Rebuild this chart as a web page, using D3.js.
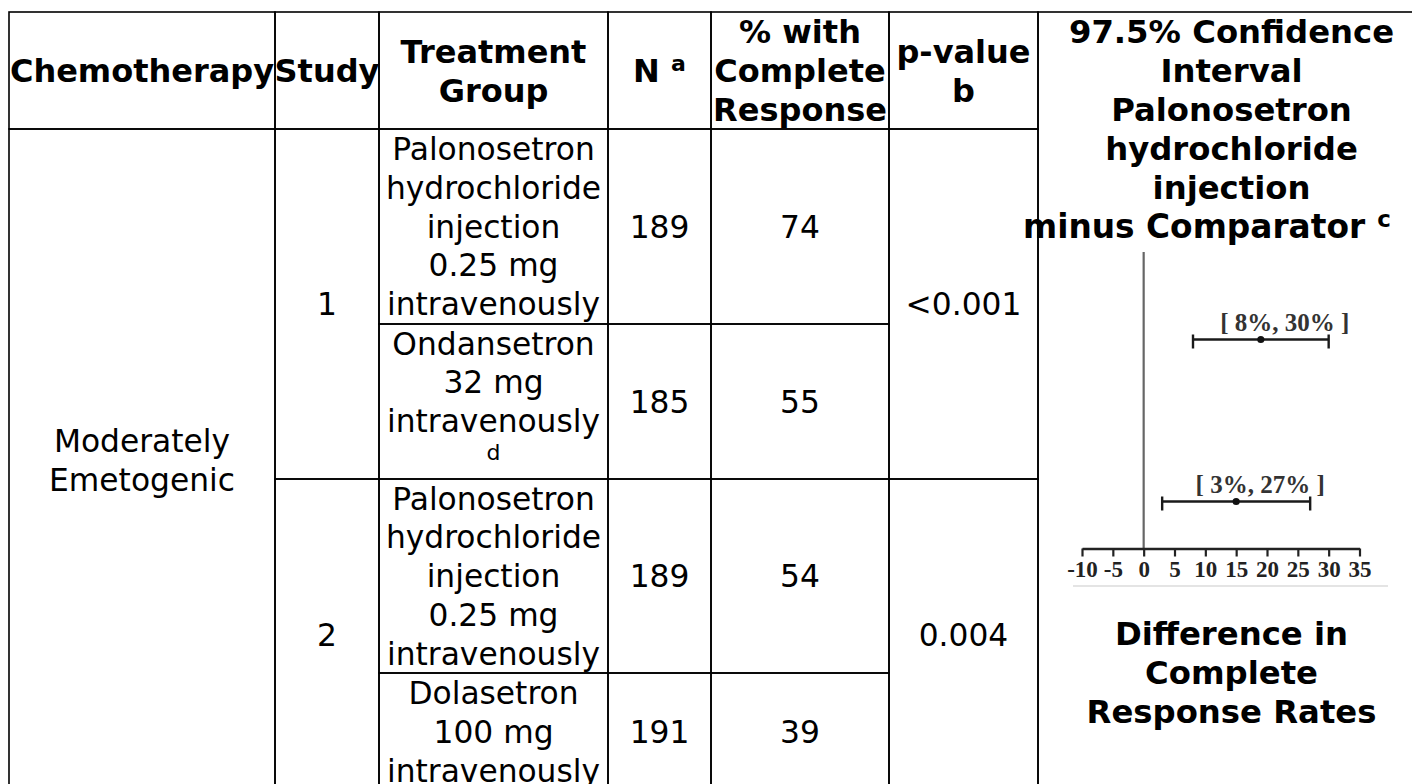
<!DOCTYPE html>
<html>
<head>
<meta charset="utf-8">
<script src="https://cdn.jsdelivr.net/npm/d3@7"></script>
<style>
    body { margin: 0; background: #fff; }
    svg { display: block; }
</style>
</head>
<body>
<div id="chart"></div>
<script>
// Header labels of the table, one entry per column, already broken in lines
var headerLines = [
    ['Chemotherapy'],
    ['Study'],
    ['Treatment', 'Group'],
    ['N'],
    ['% with', 'Complete', 'Response'],
    ['p-value', 'b']
];
// Header of the confidence interval column
var ciHeaderLines = ['97.5% Confidence', 'Interval', 'Palonosetron', 'hydrochloride', 'injection', 'minus Comparator'];
// Title under the interval plot
var ciFooterLines = ['Difference in', 'Complete', 'Response Rates'];

// Chemotherapy type (spans every row)
var chemotherapy = ['Moderately', 'Emetogenic'];
// Study numbers (each spans two treatment rows)
var studies = ['1', '2'];
// Treatment groups, one per row
var treatments = [
    ['Palonosetron', 'hydrochloride', 'injection', '0.25 mg', 'intravenously'],
    ['Ondansetron', '32 mg', 'intravenously'],
    ['Palonosetron', 'hydrochloride', 'injection', '0.25 mg', 'intravenously'],
    ['Dolasetron', '100 mg', 'intravenously']
];
// Footnote letters attached to the treatment groups
var treatmentNotes = ['', 'd', '', ''];
// Number of patients per row
var nValues = [189, 185, 189, 191];
// Percent with complete response per row
var responseRates = [74, 55, 54, 39];
// p-values per study
var pValues = ['<0.001', '0.004'];

// Confidence interval per study: lower, estimate, upper (percent)
var ciLower = [8, 3];
var ciEstimate = [19, 15];
var ciUpper = [30, 27];
// Ticks of the difference axis
var axisTicks = [-10, -5, 0, 5, 10, 15, 20, 25, 30, 35];

// Size of the picture
var width = 1412, height = 784;

// Column and row edges of the table
var colX = [9, 275, 379, 608, 711, 889, 1038, 1425];
var rowY = [12, 129, 324, 479, 673, 791];

// Fonts
var sansFont = '"DejaVu Sans", Verdana, sans-serif';
var serifFont = '"Liberation Serif", "Times New Roman", serif';

var svg = d3.select('#chart').append('svg')
    .attr('width', width)
    .attr('height', height);

// Group for the cell borders
var borders = svg.append('g').attr('class', 'borders');
// Group for the cell texts
var texts = svg.append('g').attr('class', 'texts');

/* Draws the border of a cell spanning columns c0..c1 and rows r0..r1
*/
function cellBox(c0, c1, r0, r1) {
    borders.append('rect')
        .attr('x', colX[c0])
        .attr('y', rowY[r0])
        .attr('width', colX[c1 + 1] - colX[c0])
        .attr('height', rowY[r1 + 1] - rowY[r0])
        .attr('fill', 'none')
        .attr('stroke', '#000')
        .attr('stroke-width', 1.6);
}

/* Writes lines of text vertically centered in a cell
*/
function cellText(c0, c1, r0, r1, lines, opts) {
    opts = opts || {};
    var bold = opts.bold || false,
        size = bold ? 32 : 31.3,
        lineH = bold ? 39 : 38.75,
        asc = bold ? 31 : 30.5,
        cx = (colX[c0] + colX[c1 + 1]) / 2,
        cy = (rowY[r0] + rowY[r1 + 1]) / 2,
        top = cy - lines.length * lineH / 2;

    lines.forEach(function(line, i) {
        var t = texts.append('text')
            .attr('x', cx)
            .attr('y', top + i * lineH + asc)
            .attr('text-anchor', 'middle')
            .style('font-family', sansFont)
            .style('font-size', size + 'px')
            .style('font-weight', bold ? 'bold' : 'normal')
            .attr('fill', '#000');
        // A line may carry a footnote letter written smaller and raised
        if (typeof line === 'object') {
            if (line.text) {
                t.append('tspan').text(line.text + '\u00a0');
            }
            t.append('tspan')
                .attr('dy', -11)
                .style('font-size', '22px')
                .text(line.note);
        } else {
            t.text(line);
        }
    });
}

// Header row
headerLines.forEach(function(lines, c) {
    cellBox(c, c, 0, 0);
    // The N column carries the footnote a
    if (c == 3) {
        cellText(c, c, 0, 0, [{ text: lines[0], note: 'a' }], { bold: true });
    } else {
        cellText(c, c, 0, 0, lines, { bold: true });
    }
});

// Chemotherapy cell spanning all the rows
cellBox(0, 0, 1, 4);
cellText(0, 0, 1, 4, chemotherapy);

// Study and p-value cells, each spanning two rows
studies.forEach(function(s, i) {
    var r0 = 1 + i * 2, r1 = r0 + 1;
    cellBox(1, 1, r0, r1);
    cellText(1, 1, r0, r1, [s]);
    cellBox(5, 5, r0, r1);
    cellText(5, 5, r0, r1, [pValues[i]]);
});

// Treatment, N and response rate, one row each
treatments.forEach(function(lines, i) {
    var r = i + 1,
        allLines = lines.slice();
    if (treatmentNotes[i] != '') {
        allLines.push({ text: '', note: treatmentNotes[i] });
    }
    cellBox(2, 2, r, r);
    cellText(2, 2, r, r, allLines);
    cellBox(3, 3, r, r);
    cellText(3, 3, r, r, [String(nValues[i])]);
    cellBox(4, 4, r, r);
    cellText(4, 4, r, r, [String(responseRates[i])]);
});

// Confidence interval column spanning header and all rows
cellBox(6, 6, 0, 4);
var ciCenter = 1231.5;

// Header text of the interval column, written from the top of the cell
var ciHead = texts.append('g');
ciHeaderLines.forEach(function(line, i) {
    var last = (i == ciHeaderLines.length - 1);
    var t = ciHead.append('text')
        // The last line is too wide for the cell and starts left of it
        .attr('x', last ? 1023 : ciCenter)
        .attr('y', rowY[0] + 31 + i * 39)
        .attr('text-anchor', last ? 'start' : 'middle')
        .style('font-family', sansFont)
        .style('font-size', last ? '32.8px' : '32.3px')
        .style('font-weight', 'bold')
        .attr('fill', '#000');
    if (last) {
        // The last line carries the footnote c
        t.append('tspan').text(line);
        t.append('tspan').attr('dx', 12).attr('dy', -11).style('font-size', '23px').text('c');
    } else {
        t.text(line);
    }
});

// Title under the plot
ciFooterLines.forEach(function(line, i) {
    texts.append('text')
        .attr('x', ciCenter)
        .attr('y', 645 + i * 39)
        .attr('text-anchor', 'middle')
        .style('font-family', sansFont)
        .style('font-size', '32.3px')
        .style('font-weight', 'bold')
        .attr('fill', '#000')
        .text(line);
});

// ---- Interval plot ----
var plot = svg.append('g').attr('class', 'plot');

// Horizontal scale of the differences in percent
var x = d3.scaleLinear().domain([-10, 35]).range([1082, 1359.5]);
// Vertical position of each study's interval
var y = d3.scalePoint().domain(studies).range([339.5, 501.5]);
// Vertical position of the axis and top of the zero line
var axisY = 548.5, zeroTop = 252;

// Faint line under the tick labels
plot.append('line')
    .attr('x1', 1073).attr('x2', 1388)
    .attr('y1', 586).attr('y2', 586)
    .attr('stroke', '#e4e4e4')
    .attr('stroke-width', 2);

// Line of no difference
plot.append('line')
    .attr('x1', x(0)).attr('x2', x(0))
    .attr('y1', zeroTop).attr('y2', axisY)
    .attr('stroke', '#666')
    .attr('stroke-width', 2.2);

// Bottom axis
var axis = plot.append('g')
    .attr('transform', 'translate(0,' + axisY + ')')
    .call(d3.axisBottom(x)
        .tickValues(axisTicks)
        .tickSize(8)
        .tickPadding(4)
        .tickSizeOuter(0)
        .tickFormat(d3.format('d')));
axis.select('.domain')
    .attr('stroke', '#222')
    .attr('stroke-width', 2.4);
axis.selectAll('.tick line')
    .attr('stroke', '#222')
    .attr('stroke-width', 2.2);
axis.selectAll('.tick text')
    .attr('fill', '#222')
    .style('font-family', serifFont)
    .style('font-size', '23px')
    .style('font-weight', 'bold')
    .text(function(d) { return d < 0 ? '-' + Math.abs(d) : d; });

// One group per interval
var ci = plot.selectAll('.ci')
    .data(studies)
    .enter().append('g')
    .attr('class', 'ci');

// Interval line
ci.append('line')
    .attr('x1', function(d, i) { return x(ciLower[i]); })
    .attr('x2', function(d, i) { return x(ciUpper[i]); })
    .attr('y1', function(d) { return y(d); })
    .attr('y2', function(d) { return y(d); })
    .attr('stroke', '#1a1a1a')
    .attr('stroke-width', 2.6);

// End caps of the interval
[ciLower, ciUpper].forEach(function(ends) {
    ci.append('line')
        .attr('x1', function(d, i) { return x(ends[i]); })
        .attr('x2', function(d, i) { return x(ends[i]); })
        .attr('y1', function(d) { return y(d) - 5; })
        .attr('y2', function(d) { return y(d) + 9; })
        .attr('stroke', '#1a1a1a')
        .attr('stroke-width', 2.4);
});

// Point estimate
ci.append('circle')
    .attr('cx', function(d, i) { return x(ciEstimate[i]); })
    .attr('cy', function(d) { return y(d); })
    .attr('r', 3.6)
    .attr('fill', '#111');

// Interval label above the line
ci.append('text')
    .attr('x', function(d, i) { return x(ciEstimate[i]) + 24; })
    .attr('y', function(d) { return y(d) - 9; })
    .attr('text-anchor', 'middle')
    .style('font-family', serifFont)
    .style('font-size', '25px')
    .style('font-weight', 'bold')
    .attr('fill', '#333')
    .text(function(d, i) { return '[ ' + ciLower[i] + '%, ' + ciUpper[i] + '% ]'; });
</script>
</body>
</html>
